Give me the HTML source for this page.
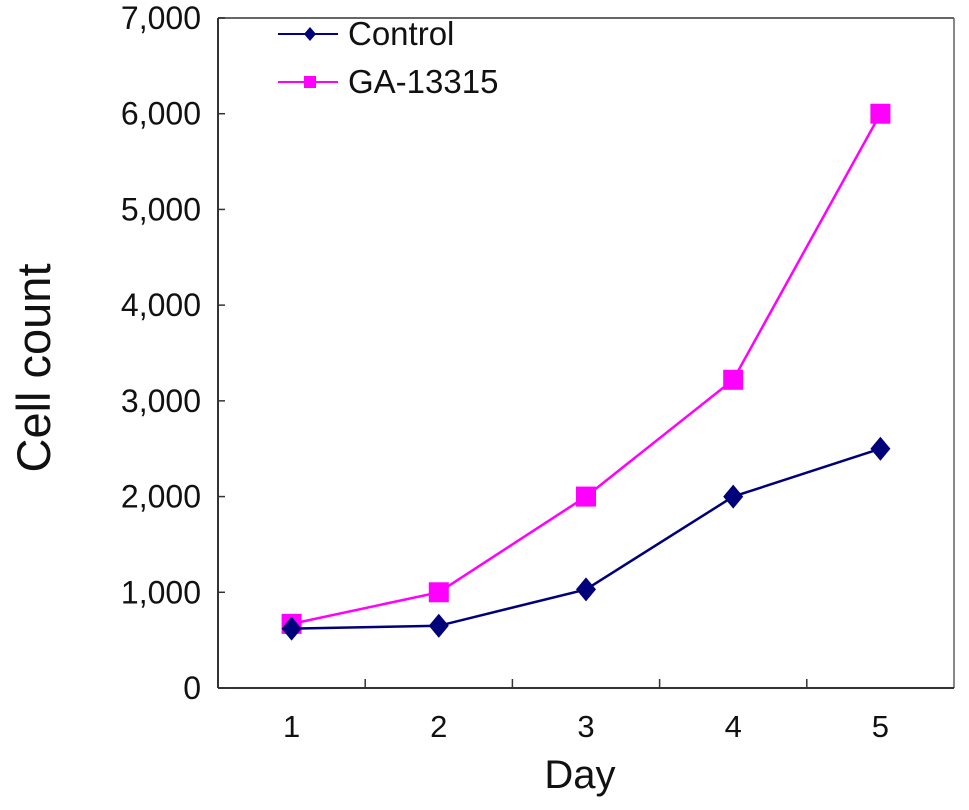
<!DOCTYPE html>
<html><head><meta charset="utf-8"><style>
body{margin:0;background:#fff;}
svg{display:block;font-family:"Liberation Sans",Arial,sans-serif;}
</style></head><body>
<svg id="chart" width="969" height="810">
<g id="axes"></g>
<g id="marks"></g>
<text x="580" y="788" font-size="40" text-anchor="middle" fill="#111">Day</text>
<text transform="translate(50,368) rotate(-90)" font-size="47" text-anchor="middle" fill="#111">Cell count</text>
<g>
 <g>
  <line x1="278" y1="34" x2="338" y2="34" stroke="#00008b" stroke-width="2"/>
  <path d="M310,27 L316,34 L310,41 L304,34Z" fill="#00007a"/>
  <text x="348" y="45" font-size="33" fill="#111">Control</text>
 </g>
 <g>
  <line x1="278" y1="82" x2="338" y2="82" stroke="#ff00ff" stroke-width="2"/>
  <rect x="304" y="76" width="12" height="12" fill="#ff00ff"/>
  <text x="348" y="93" font-size="33" fill="#111">GA-13315</text>
 </g>
</g>
</svg>
<script>
const categories=["1","2","3","4","5"];
const controlValues=[620,650,1030,2000,2500];
const gaValues=[670,1000,2000,3220,6000];
const yTicks=[0,1000,2000,3000,4000,5000,6000,7000];
const yTickLabels=["0","1,000","2,000","3,000","4,000","5,000","6,000","7,000"];
const NS="http://www.w3.org/2000/svg";
const X0=218,X1=954,Y0=688,Y1=18,YMAX=7000;
const band=(X1-X0)/categories.length;
const xs=i=>X0+band*(i+0.5);
const ys=v=>Y0-(v/YMAX)*(Y0-Y1);
function mk(tag,attrs,parent){const e=document.createElementNS(NS,tag);for(const k in attrs)e.setAttribute(k,attrs[k]);parent.appendChild(e);return e;}
const axes=document.getElementById('axes'),marks=document.getElementById('marks');
let e=mk('line',{x1:X1,y1:Y1,x2:X1,y2:Y0,stroke:'#888','stroke-width':2},axes);


e=mk('line',{x1:X0,y1:Y1,x2:X1,y2:Y1,stroke:'#666','stroke-width':2},axes);


e=mk('line',{x1:X0,y1:Y1,x2:X0,y2:Y0,stroke:'#333','stroke-width':2},axes);


e=mk('line',{x1:X0,y1:Y0,x2:X1,y2:Y0,stroke:'#333','stroke-width':2},axes);


yTicks.forEach((v,i)=>{
 const y=ys(v);
 const t=mk('line',{x1:X0,y1:y,x2:X0+7,y2:y,stroke:'#333','stroke-width':1.5},axes);
 
 
 const l=mk('text',{x:201,y:y+11,'font-size':32,'text-anchor':'end',fill:'#111'},axes);
 l.textContent=yTickLabels[i];
 
 
});
categories.forEach((c,i)=>{
 if(i>0){const t=mk('line',{x1:X0+band*i,y1:Y0,x2:X0+band*i,y2:Y0-9,stroke:'#333','stroke-width':1.5},axes);
 
 }
 const l=mk('text',{x:xs(i),y:737,'font-size':31,'text-anchor':'middle',fill:'#111'},axes);
 l.textContent=c;
 
 
});
function series(vals,color,shape,name){
 const p=mk('polyline',{points:vals.map((v,i)=>xs(i)+','+ys(v)).join(' '),fill:'none',stroke:color,'stroke-width':2.5},marks);
 
 
 vals.forEach((v,i)=>{
  const x=xs(i),y=ys(v);let m;
  if(shape==='diamond')m=mk('path',{d:`M${x},${y-12}L${x+10},${y}L${x},${y+12}L${x-10},${y}Z`,fill:color},marks);
  else m=mk('rect',{x:x-10,y:y-10,width:20,height:20,fill:color},marks);
  
  
 });
}
series(gaValues,'#ff00ff','square','ga-13315');
series(controlValues,'#00007a','diamond','control');
</script>
</body></html>
